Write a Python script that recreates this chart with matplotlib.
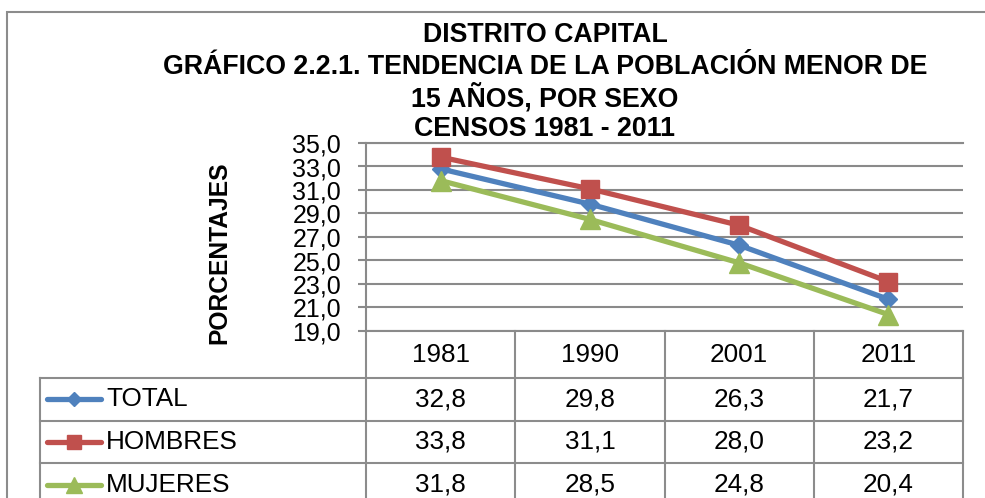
import matplotlib
matplotlib.use('Agg')
import matplotlib.pyplot as plt
import matplotlib.transforms as mtransforms
from matplotlib.patches import Rectangle

plt.rcParams['font.family'] = ['Liberation Sans', 'DejaVu Sans']

# ── Data ────────────────────────────────────────────────────────────────────────
YEARS   = ['1981', '1990', '2001', '2011']
SERIES  = ['TOTAL', 'HOMBRES', 'MUJERES']
TOTAL   = [32.8, 29.8, 26.3, 21.7]
HOMBRES = [33.8, 31.1, 28.0, 23.2]
MUJERES = [31.8, 28.5, 24.8, 20.4]
Y_TICKS = [19, 21, 23, 25, 27, 29, 31, 33, 35]

TITLE_LINES = ['DISTRITO CAPITAL',
               'GRÁFICO 2.2.1. TENDENCIA DE LA POBLACIÓN MENOR DE',
               '15 AÑOS, POR SEXO',
               'CENSOS 1981 - 2011']
Y_LABEL = 'PORCENTAJES'

# ── Styles ──────────────────────────────────────────────────────────────────────
COLORS  = ['#4F81BD', '#C0504D', '#9BBB59']
MARKERS = ['D', 's', '^']
MSIZE   = [9.5, 13, 15]
LEG_MS  = [7.5, 10, 11]
GRID    = '#8a8a8a'
BORDER  = '#8c8c8c'
TABLE_FS = 18.8

W, H = 985, 498
PLOT_L, PLOT_R, PLOT_T, PLOT_B = 366, 963, 143, 331
COL_W = (PLOT_R - PLOT_L) / len(YEARS)
LEG_L = 40
HEAD_B = 378
ROW_H = 42.6
TITLE_Y = [32, 63.5, 95, 126]


def fmt(v):
    return f'{v:.1f}'.replace('.', ',')


def dx(px):
    return -0.5 + (px - PLOT_L) / COL_W


def ay(py):
    return (PLOT_B - py) / (PLOT_B - PLOT_T)


fig = plt.figure(figsize=(W / 100, H / 100), dpi=100)
fig.patch.set_facecolor('white')

ax = fig.add_axes([PLOT_L / W, 1 - PLOT_B / H,
                   (PLOT_R - PLOT_L) / W, (PLOT_B - PLOT_T) / H])

x = list(range(len(YEARS)))
values = [TOTAL, HOMBRES, MUJERES]
for i, vals in enumerate(values):
    ax.plot(x, vals, color=COLORS[i], lw=3.8, marker=MARKERS[i],
            ms=MSIZE[i], mfc=COLORS[i], mec=COLORS[i], mew=1,
            solid_joinstyle='round', solid_capstyle='round',
            clip_on=False, zorder=3 + i)

ax.set_xlim(-0.5, len(YEARS) - 0.5)
ax.set_ylim(Y_TICKS[0], Y_TICKS[-1])
ax.set_xticks([])
ax.set_yticks(Y_TICKS)
ax.set_yticklabels([fmt(v) for v in Y_TICKS])
ax.grid(axis='y', color=GRID, lw=1.5)
ax.set_axisbelow(True)
ax.tick_params(axis='y', length=6, width=1.5, color=GRID, pad=12,
               labelsize=18)
for side in ['left', 'bottom', 'top']:
    ax.spines[side].set_color(GRID)
    ax.spines[side].set_linewidth(1.5)
ax.spines['right'].set_visible(False)

# ── Data table under the plot ───────────────────────────────────────────────────
blend = mtransforms.blended_transform_factory(ax.transData, ax.transAxes)
tbl_bottom = HEAD_B + ROW_H * len(SERIES)
row_lines = [HEAD_B + ROW_H * k for k in range(len(SERIES) + 1)]
line_kw = dict(color=BORDER, lw=1.5, transform=blend, clip_on=False)

for k in range(len(YEARS) + 1):
    ax.plot([k - 0.5, k - 0.5], [0, ay(tbl_bottom)], **line_kw)
ax.plot([dx(LEG_L), dx(LEG_L)], [ay(HEAD_B), ay(tbl_bottom)], **line_kw)
for py in row_lines:
    ax.plot([dx(LEG_L), len(YEARS) - 0.5], [ay(py), ay(py)], **line_kw)

head_c = ay((PLOT_B + HEAD_B) / 2)
for j, yr in enumerate(YEARS):
    ax.text(j, head_c, yr, transform=blend, ha='center', va='center',
            fontsize=TABLE_FS, clip_on=False)

for i, (name, vals) in enumerate(zip(SERIES, values)):
    yc = ay(HEAD_B + ROW_H * (i + 0.5))
    for j, v in enumerate(vals):
        ax.text(j, yc, fmt(v), transform=blend, ha='center', va='center',
                fontsize=TABLE_FS, clip_on=False)
    ax.plot([dx(47), dx(101)], [yc, yc], color=COLORS[i], lw=3.8,
            solid_capstyle='round', transform=blend, clip_on=False)
    ax.plot([dx(74)], [yc], marker=MARKERS[i], ms=LEG_MS[i],
            color=COLORS[i], transform=blend, clip_on=False)
    ax.text(dx(106), yc, name, transform=blend, ha='left', va='center',
            fontsize=TABLE_FS, clip_on=False)

# ── Titles & frame ──────────────────────────────────────────────────────────────
for line, py in zip(TITLE_LINES, TITLE_Y):
    fig.text(545 / W, 1 - py / H, line, ha='center', va='center_baseline',
             fontsize=19.3, fontweight='bold')
fig.text(219 / W, 1 - 253 / H, Y_LABEL, rotation=90, ha='center',
         va='center', fontsize=17.7, fontweight='bold')

fig.add_artist(Rectangle((7 / W, -0.5), 2, 1 - 12 / H + 0.5, fill=False,
                         edgecolor=BORDER, lw=1.5, transform=fig.transFigure))

fig.savefig('out.png', dpi=100)
